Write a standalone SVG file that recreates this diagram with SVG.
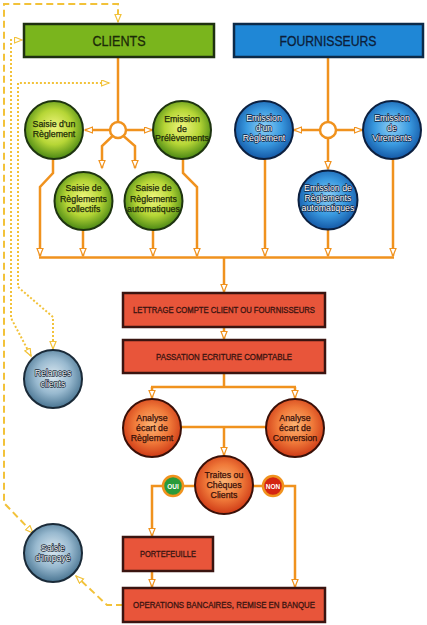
<svg xmlns="http://www.w3.org/2000/svg" width="427" height="625" viewBox="0 0 427 625">
<style>
.c{fill:none;stroke:#f0921e;stroke-width:2.5}
.ca{fill:none;stroke:#f0921e;stroke-width:2.5;marker-end:url(#ar)}
.dash{fill:none;stroke:#f2c23a;stroke-width:2;stroke-dasharray:7 4}
.dot{fill:none;stroke:#f2c23a;stroke-width:2;stroke-dasharray:2 2}
.t{font-family:"Liberation Sans",Arial,sans-serif;font-size:8.8px;text-anchor:middle;stroke-width:0.25}
.tg{fill:#1c2a08;stroke:#1c2a08}.tr{fill:#3a1008;stroke:#3a1008}
.tb{fill:#ffffff;stroke:#0c2040;stroke-width:1.3;paint-order:stroke;stroke-linejoin:round}
.tgr{fill:#f4f8fb;stroke:#1a2a38;stroke-width:1.3;paint-order:stroke;stroke-linejoin:round}
.bx{fill:#e8553a;stroke:#3a1410;stroke-width:2.5}
.bt{font-family:"Liberation Sans",Arial,sans-serif;font-size:8.8px;text-anchor:middle;fill:#3a1410;stroke:#3a1410;stroke-width:0.3}
</style>
<defs>
<marker id="ar" markerUnits="userSpaceOnUse" markerWidth="12" markerHeight="10" refX="8" refY="3.5" orient="auto"><path d="M0.5,0.5 L8,3.5 L0.5,6.5 z" fill="#fff" stroke="#f0921e" stroke-width="1.2"/></marker>
<marker id="ay" markerUnits="userSpaceOnUse" markerWidth="12" markerHeight="10" refX="8" refY="3.5" orient="auto-start-reverse"><path d="M0.5,0.5 L8,3.5 L0.5,6.5 z" fill="#fff" stroke="#f2c23a" stroke-width="1.2"/></marker>
<radialGradient id="gG" cx="50%" cy="45%" r="55%"><stop offset="0" stop-color="#f0f57e"/><stop offset="0.55" stop-color="#b6d636"/><stop offset="1" stop-color="#4a8814"/></radialGradient>
<radialGradient id="gB" cx="50%" cy="45%" r="55%"><stop offset="0" stop-color="#8fd0f6"/><stop offset="0.55" stop-color="#3a9ae0"/><stop offset="1" stop-color="#1458a6"/></radialGradient>
<radialGradient id="gR" cx="50%" cy="45%" r="55%"><stop offset="0" stop-color="#fbb474"/><stop offset="0.55" stop-color="#f07a3a"/><stop offset="1" stop-color="#cf3a16"/></radialGradient>
<radialGradient id="gS" cx="50%" cy="45%" r="55%"><stop offset="0" stop-color="#dce9f1"/><stop offset="0.55" stop-color="#98b9cf"/><stop offset="1" stop-color="#4a7592"/></radialGradient>
</defs>

<g id="connectors">
<path class="dash" d="M33,533 L4,503 V4 H118 V22" marker-start="url(#ay)" marker-end="url(#ay)"/>
<path class="dash" d="M123,605 H107 L76,576" marker-end="url(#ay)"/>
<path class="dot" d="M31,356 L11,318 V40 H22" marker-start="url(#ay)" marker-end="url(#ay)"/>
<path class="dot" d="M53,349 V317 L18,287 V83 H109" marker-start="url(#ay)" marker-end="url(#ay)"/>

<path class="c" d="M118,57 V122"/>
<path class="ca" d="M110,130 H85"/>
<path class="ca" d="M126,130 H152"/>
<path class="ca" d="M112.5,136 L102,146 V168"/>
<path class="ca" d="M123.5,136 L135,146 V168"/>
<path class="ca" d="M53,159 V173 L40,187 V256"/>
<path class="ca" d="M83,230 V256"/>
<path class="ca" d="M153,230 V256"/>
<path class="ca" d="M183,159 V173 L197,187 V256"/>
<path class="c" d="M328,57 V122"/>
<path class="ca" d="M320,130 H294"/>
<path class="ca" d="M336,130 H362"/>
<path class="ca" d="M328,138 V169"/>
<path class="ca" d="M265,159 V256"/>
<path class="ca" d="M328,230 V256"/>
<path class="ca" d="M393,159 V256"/>
<path class="c" d="M39,257.5 H394"/>
<path class="ca" d="M224,257 V292"/>
<path class="ca" d="M224,327 V339"/>
<path class="c" d="M224,373 V387 M151,387 H296"/>
<path class="ca" d="M152,387 V398"/>
<path class="ca" d="M295,387 V398"/>
<path class="c" d="M181,427 H266"/>
<path class="ca" d="M224,427 V455"/>
<path class="ca" d="M195,486 H152 V536"/>
<path class="ca" d="M253,486 H295 V587"/>
<path class="ca" d="M152,571 V587"/>
<circle cx="118" cy="130" r="8" fill="#fff" stroke="#f0921e" stroke-width="2.5"/>
<circle cx="328" cy="130" r="8" fill="#fff" stroke="#f0921e" stroke-width="2.5"/>
</g>

<g id="clients">
<rect x="24" y="24" width="190" height="33" fill="#7ab51d" stroke="#1e3010" stroke-width="2.5"/>
<text x="119" y="46" font-family="Liberation Sans,Arial,sans-serif" font-size="14" text-anchor="middle" fill="#1c2a08" stroke="#1c2a08" stroke-width="0.3" textLength="53" lengthAdjust="spacingAndGlyphs">CLIENTS</text>
</g>
<g id="fournisseurs">
<rect x="234" y="24" width="189" height="33" fill="#1f87d6" stroke="#0c2a48" stroke-width="2.5"/>
<text x="328" y="46" font-family="Liberation Sans,Arial,sans-serif" font-size="14" text-anchor="middle" fill="#0c1e3a" stroke="#0c1e3a" stroke-width="0.3" textLength="97" lengthAdjust="spacingAndGlyphs">FOURNISSEURS</text>
</g>

<g id="saisie-reglement">
<circle cx="54" cy="130" r="29" fill="url(#gG)" stroke="#1e3410" stroke-width="2"/>
<text class="t tg" x="54" y="127">Saisie d'un</text><text class="t tg" x="54" y="137">Règlement</text>
</g>
<g id="emission-prelevements">
<circle cx="182" cy="130" r="29" fill="url(#gG)" stroke="#1e3410" stroke-width="2"/>
<text class="t tg" x="182" y="122">Emission</text><text class="t tg" x="182" y="131.5">de</text><text class="t tg" x="182" y="141">Prélèvements</text>
</g>
<g id="saisie-collectifs">
<circle cx="83.5" cy="201" r="29" fill="url(#gG)" stroke="#1e3410" stroke-width="2"/>
<text class="t tg" x="83.5" y="191">Saisie de</text><text class="t tg" x="83.5" y="201.5">Règlements</text><text class="t tg" x="83.5" y="212">collectifs</text>
</g>
<g id="saisie-automatiques">
<circle cx="153.5" cy="201" r="29" fill="url(#gG)" stroke="#1e3410" stroke-width="2"/>
<text class="t tg" x="153.5" y="191">Saisie de</text><text class="t tg" x="153.5" y="201.5">Règlements</text><text class="t tg" x="153.5" y="212">automatiques</text>
</g>

<g id="emission-reglement">
<circle cx="264" cy="130" r="29" fill="url(#gB)" stroke="#0c2040" stroke-width="2"/>
<text class="t tb" x="264" y="121">Emission</text><text class="t tb" x="264" y="131">d'un</text><text class="t tb" x="264" y="141">Règlement</text>
</g>
<g id="emission-virements">
<circle cx="392" cy="130" r="29" fill="url(#gB)" stroke="#0c2040" stroke-width="2"/>
<text class="t tb" x="392" y="121">Emission</text><text class="t tb" x="392" y="131">de</text><text class="t tb" x="392" y="141">Virements</text>
</g>
<g id="emission-automatiques">
<circle cx="328" cy="200" r="29.5" fill="url(#gB)" stroke="#0c2040" stroke-width="2"/>
<text class="t tb" x="328" y="191">Emission de</text><text class="t tb" x="328" y="201">Règlements</text><text class="t tb" x="328" y="211">automatiques</text>
</g>

<g id="lettrage">
<rect class="bx" x="123" y="293" width="202" height="34"/>
<text class="bt" x="224" y="313" textLength="182" lengthAdjust="spacingAndGlyphs">LETTRAGE COMPTE CLIENT OU FOURNISSEURS</text>
</g>
<g id="passation">
<rect class="bx" x="123" y="340" width="202" height="33"/>
<text class="bt" x="224" y="360" textLength="136" lengthAdjust="spacingAndGlyphs">PASSATION ECRITURE COMPTABLE</text>
</g>

<g id="relances">
<circle cx="53" cy="379" r="29" fill="url(#gS)" stroke="#1a2a38" stroke-width="2"/>
<text class="t tgr" x="53" y="376">Relances</text><text class="t tgr" x="53" y="387">clients</text>
</g>

<g id="analyse-reglement">
<circle cx="152" cy="428" r="29" fill="url(#gR)" stroke="#3a1008" stroke-width="2"/>
<text class="t tr" x="152" y="421">Analyse</text><text class="t tr" x="152" y="431">écart de</text><text class="t tr" x="152" y="441">Règlement</text>
</g>
<g id="analyse-conversion">
<circle cx="295" cy="428" r="29" fill="url(#gR)" stroke="#3a1008" stroke-width="2"/>
<text class="t tr" x="295" y="421">Analyse</text><text class="t tr" x="295" y="431">écart de</text><text class="t tr" x="295" y="441">Conversion</text>
</g>
<g id="traites">
<circle cx="224" cy="485" r="29" fill="url(#gR)" stroke="#3a1008" stroke-width="2"/>
<text class="t tr" x="224" y="478">Traites ou</text><text class="t tr" x="224" y="488">Chèques</text><text class="t tr" x="224" y="498">Clients</text>
</g>
<g id="oui">
<circle cx="173" cy="486" r="10" fill="#2a9a3a" stroke="#f0921e" stroke-width="2.5"/>
<text x="173" y="488.5" font-family="Liberation Sans,Arial,sans-serif" font-size="6.5" font-weight="bold" text-anchor="middle" fill="#fff">OUI</text>
</g>
<g id="non">
<circle cx="273" cy="486" r="10" fill="#d42412" stroke="#f0921e" stroke-width="2.5"/>
<text x="273" y="488.5" font-family="Liberation Sans,Arial,sans-serif" font-size="6.5" font-weight="bold" text-anchor="middle" fill="#fff">NON</text>
</g>

<g id="portefeuille">
<rect class="bx" x="123" y="537" width="90" height="34"/>
<text class="bt" x="168" y="557" textLength="56" lengthAdjust="spacingAndGlyphs">PORTEFEUILLE</text>
</g>
<g id="saisie-impaye">
<circle cx="53" cy="553" r="29" fill="url(#gS)" stroke="#1a2a38" stroke-width="2"/>
<text class="t tgr" x="53" y="551">Saisie</text><text class="t tgr" x="53" y="561">d'Impayé</text>
</g>
<g id="operations">
<rect class="bx" x="123" y="588" width="202" height="34"/>
<text class="bt" x="224" y="608" textLength="182" lengthAdjust="spacingAndGlyphs">OPERATIONS BANCAIRES, REMISE EN BANQUE</text>
</g>
</svg>
